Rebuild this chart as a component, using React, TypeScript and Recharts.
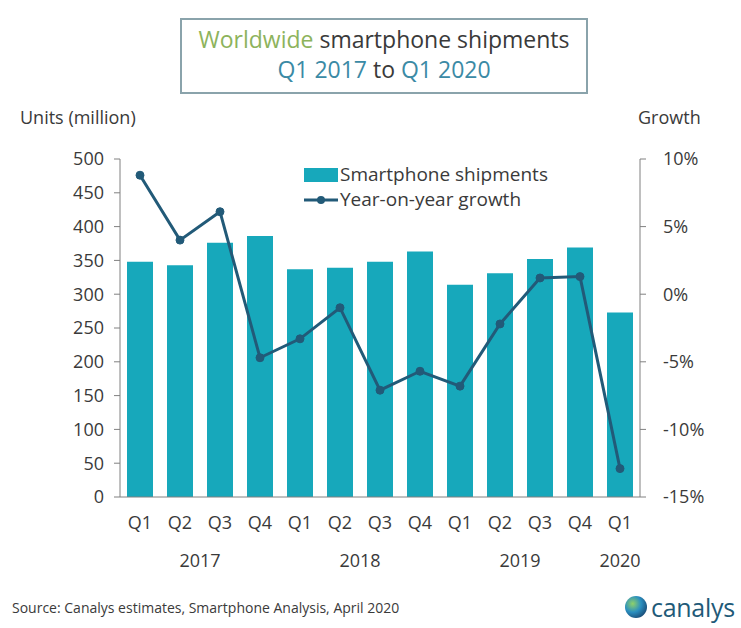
import React from 'react';
import { ComposedChart, Bar, Line, XAxis, YAxis } from 'recharts';

const QUARTERS = ['Q1', 'Q2', 'Q3', 'Q4', 'Q1', 'Q2', 'Q3', 'Q4', 'Q1', 'Q2', 'Q3', 'Q4', 'Q1'];
// year label shown under a quarter; "mid" means centred between this quarter and the next
const YEAR_LABELS = ['', '2017', '', '', '', '2018', '', '', '', '2019', '', '', '2020'];
const YEAR_MID = [false, true, false, false, false, true, false, false, false, true, false, false, false];
const SHIPMENTS = [348, 343, 376, 386, 337, 339, 348, 363, 314, 331, 352, 369, 273];
const GROWTH = [8.8, 4.0, 6.1, -4.7, -3.3, -1.0, -7.1, -5.7, -6.8, -2.2, 1.2, 1.3, -12.9];

const UNIT_TICKS = [0, 50, 100, 150, 200, 250, 300, 350, 400, 450, 500];
const GROWTH_TICKS = [-15, -10, -5, 0, 5, 10];

const data = QUARTERS.map((q, i) => ({
  q,
  idx: i,
  shipments: SHIPMENTS[i],
  growth: GROWTH[i],
}));

const BAR_COLOR = '#17a8bb';
const LINE_COLOR = '#225a78';
const TEXT = '#3a3a3a';
const FONT = '"Open Sans", "Noto Sans", sans-serif';

const QuarterTick = (props: any) => {
  const { x, y, index } = props;
  const year = YEAR_LABELS[index];
  return (
    <g>
      <text x={x} y={y + 32} textAnchor="middle" fill={TEXT} fontSize={18} fontFamily={FONT}>
        {QUARTERS[index]}
      </text>
      {year && (
        <text x={YEAR_MID[index] ? x + 20 : x} y={y + 70} textAnchor="middle" fill={TEXT} fontSize={18} fontFamily={FONT}>
          {year}
        </text>
      )}
    </g>
  );
};

const Legend = () => (
  <div style={{ position: 'absolute', left: 304, top: 162, fontFamily: FONT, fontSize: 19, color: TEXT, lineHeight: '25px' }}>
    <div style={{ display: 'flex', alignItems: 'center' }}>
      <span style={{ display: 'inline-block', width: 34, height: 14, background: BAR_COLOR, marginRight: 2 }} />
      Smartphone shipments
    </div>
    <div style={{ display: 'flex', alignItems: 'center' }}>
      <svg width={34} height={14} style={{ marginRight: 2 }}>
        <line x1={0} y1={7} x2={34} y2={7} stroke={LINE_COLOR} strokeWidth={3} />
        <circle cx={17} cy={7} r={4} fill={LINE_COLOR} />
      </svg>
      Year-on-year growth
    </div>
  </div>
);

export default function App() {
  return (
    <div style={{ position: 'absolute', left: 0, top: 0, width: 741, height: 628, background: '#fff', fontFamily: FONT }}>
      <div
        style={{
          position: 'absolute', left: 180, top: 18, width: 404, height: 68,
          border: '2px solid #8aa3ab', textAlign: 'center', fontSize: 23, lineHeight: '30px', paddingTop: 4,
        }}
      >
        <div>
          <span style={{ color: '#8db35c' }}>Worldwide</span>
          <span style={{ color: TEXT }}> smartphone shipments</span>
        </div>
        <div>
          <span style={{ color: '#3b8aa5' }}>Q1 2017</span>
          <span style={{ color: TEXT }}> to </span>
          <span style={{ color: '#3b8aa5' }}>Q1 2020</span>
        </div>
      </div>

      <div style={{ position: 'absolute', left: 20, top: 105, fontSize: 18, color: TEXT }}>Units (million)</div>
      <div style={{ position: 'absolute', left: 638, top: 105, fontSize: 18, color: TEXT }}>Growth</div>

      <ComposedChart
        width={741}
        height={628}
        data={data}
        margin={{ top: 159, right: 41, bottom: 51, left: 60 }}
      >
        <XAxis
          dataKey="idx"
          interval={0}
          tickLine={false}
          tickSize={0}
          tickMargin={0}
          height={80}
          stroke="#808080"
          tick={<QuarterTick />}
        />
        <YAxis
          yAxisId="left"
          domain={[0, 500]}
          ticks={UNIT_TICKS}
          width={60}
          stroke="#808080"
          tickSize={6}
          tickMargin={10}
          tick={{ fill: TEXT, fontSize: 18, fontFamily: FONT }}
        />
        <YAxis
          yAxisId="right"
          orientation="right"
          domain={[-15, 10]}
          ticks={GROWTH_TICKS}
          width={60}
          stroke="#808080"
          tickSize={6}
          tickMargin={17}
          tickFormatter={(v: number) => `${v}%`}
          tick={{ fill: TEXT, fontSize: 18, fontFamily: FONT }}
        />
        <Bar yAxisId="left" dataKey="shipments" fill={BAR_COLOR} barSize={26} isAnimationActive={false} />
        <Line
          yAxisId="right"
          dataKey="growth"
          type="linear"
          stroke={LINE_COLOR}
          strokeWidth={3}
          dot={{ r: 4, fill: LINE_COLOR, stroke: LINE_COLOR, strokeWidth: 1 }}
          isAnimationActive={false}
        />
      </ComposedChart>

      <Legend />

      <div style={{ position: 'absolute', left: 12, top: 598, fontSize: 14, color: TEXT }}>
        Source: Canalys estimates, Smartphone Analysis, April 2020
      </div>
      <div style={{ position: 'absolute', left: 624, top: 592, display: 'flex', alignItems: 'center' }}>
        <svg width={24} height={24} style={{ marginRight: 3 }}>
          <defs>
            <radialGradient id="globe" cx="35%" cy="35%" r="70%">
              <stop offset="0%" stopColor="#8fd16a" />
              <stop offset="55%" stopColor="#2a8fc0" />
              <stop offset="100%" stopColor="#1b4f7a" />
            </radialGradient>
          </defs>
          <circle cx={12} cy={12} r={11} fill="url(#globe)" />
        </svg>
        <span style={{ fontSize: 25, color: '#1f5a78', lineHeight: '30px', letterSpacing: -0.3 }}>canalys</span>
      </div>
    </div>
  );
}
